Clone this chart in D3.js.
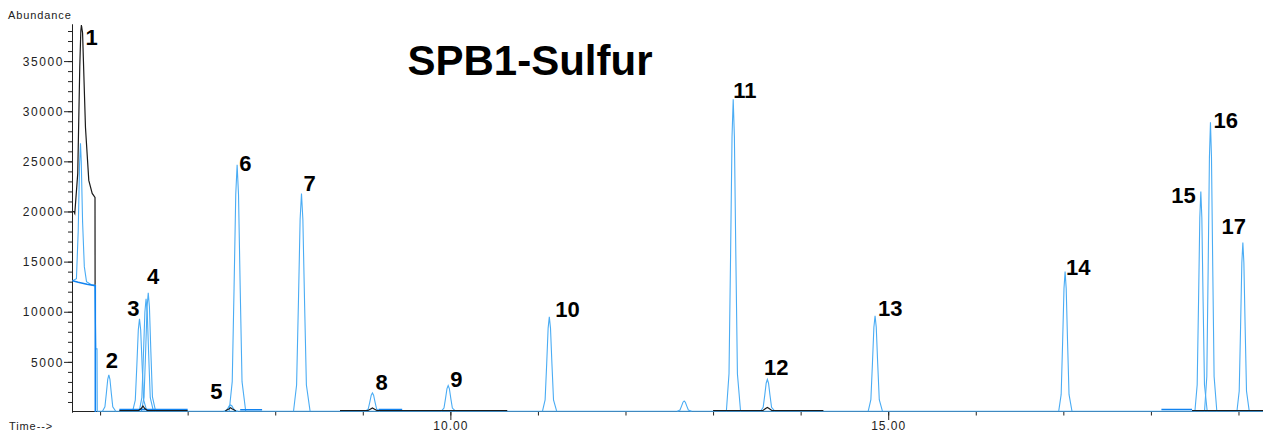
<!DOCTYPE html>
<html>
<head>
<meta charset="utf-8">
<script src="https://cdn.jsdelivr.net/npm/d3@7"></script>
<style>
  html, body { margin: 0; padding: 0; background: #fff; }
  svg { display: block; }
  .tick text, .axis-label { font-family: "Liberation Sans", Arial, sans-serif; }
</style>
</head>
<body>
<svg id="chart" width="1263" height="432"></svg>
<script>
// ---- Chromatogram data (time in minutes, abundance in counts) ----

// Main (light blue) sulfur trace: resolved peaks
const peakIds     = ["2", "3", "4", "4b", "5", "6", "7", "8", "9", "10", "x", "11", "12", "13", "14", "15", "16", "17"];
const peakTimes   = [6.10, 6.45, 6.55, 6.525, 7.49, 7.565, 8.30, 9.11, 9.975, 11.13, 12.67, 13.23, 13.62, 14.85, 17.02, 18.57, 18.68, 19.05];
const peakHeights = [3700, 9300, 11900, 11300, 700, 24650, 21800, 1900, 2650, 9500, 1100, 31200, 3250, 9600, 14000, 22000, 28900, 16900];
const peakWidths  = [0.028, 0.03, 0.03, 0.03, 0.03, 0.035, 0.035, 0.03, 0.03, 0.03, 0.03, 0.03, 0.03, 0.03, 0.028, 0.026, 0.026, 0.026];

// Peak profile: offsets in peak-width units and fraction of apex height
const profileOffsets   = [-2.6, -1.6, -1.0, -0.45, 0, 0.45, 1.0, 1.6, 2.8];
const profileFractions = [0, 0.12, 0.5, 0.88, 1, 0.88, 0.5, 0.12, 0];

const baselineLevel = 80;

// Main trace: solvent front (peak 1) and baseline to end of run
const lightLead = [
  [5.685, 13100], [5.73, 13300], [5.75, 18000], [5.765, 24500], [5.776, 26800],
  [5.785, 25000], [5.80, 19000], [5.82, 14500], [5.845, 13000], [5.90, 12700],
  [5.94, 12650], [5.952, 6300], [5.965, 6300], [5.968, 80], [19.28, 80]
];

// Second trace (dark blue): offset start and short windowed segments
const darkTrace = [
  [5.685, 13100], [5.75, 12950], [5.85, 12750], [5.945, 12600], [5.946, 0], null,
  [6.22, 250], [7.0, 250], null,
  [7.6, 220], [7.85, 220], null,
  [9.18, 250], [9.45, 250], null,
  [18.12, 250], [18.47, 250]
];

// Third trace (black): large peak 1 and windowed segments with small responses
const blackTrace = [
  [5.685, 20000], [5.700, 20000], [5.711, 19800], [5.745, 23800], [5.757, 29400],
  [5.768, 34400], [5.780, 38000], [5.787, 38600], [5.800, 37800], [5.833, 28400],
  [5.871, 23100], [5.910, 21800], [5.942, 21400], [5.943, 12700], null,
  [6.22, 150], [6.44, 150], [6.47, 350], [6.49, 600], [6.51, 350], [6.54, 150], [7.0, 150], null,
  [7.43, 120], [7.47, 300], [7.49, 420], [7.51, 300], [7.55, 120], null,
  [8.74, 150], [9.06, 150], [9.09, 300], [9.11, 400], [9.13, 300], [9.16, 150], [10.65, 150], null,
  [13.0, 150], [13.57, 150], [13.60, 350], [13.62, 450], [13.64, 350], [13.67, 150], [14.26, 150], null,
  [18.47, 150], [19.28, 150]
];

// Peak labels: text, retention time and abundance at the labelled apex
const labelTexts  = ["1", "2", "3", "4", "5", "6", "7", "8", "9", "10", "11", "12", "13", "14", "15", "16", "17"];
const labelTimes  = [5.787, 6.10, 6.45, 6.55, 7.49, 7.565, 8.30, 9.11, 9.975, 11.13, 13.23, 13.62, 14.85, 17.02, 18.57, 18.68, 19.05];
const labelValues = [38600, 3700, 9300, 11900, 700, 24650, 21800, 1900, 2650, 9500, 31200, 3250, 9600, 14000, 22000, 28900, 16900];

// Axis ticks
const yMajorTicks = [5000, 10000, 15000, 20000, 25000, 30000, 35000];
const yMinorTicks = d3.range(1000, 39000, 1000);
const xMinorTicks = [6, 7, 8, 9, 10, 11, 12, 13, 14, 15, 16, 17, 18, 19];
const xMajorTicks = [10, 15];

const titleText = "SPB1-Sulfur";

// ---- Layout ----
const svg = d3.select("#chart");
const W = 1263, H = 432;
svg.append("rect").attr("width", W).attr("height", H).attr("fill", "#fff");

const x = d3.scaleLinear().domain([5.685, 19.28]).range([72.5, 1263]);
const y = d3.scaleLinear().domain([0, 38700]).range([412, 24]);

const axisColor = "#222";
const lightBlue = "#4aacf4";
const darkBlue = "#1283f0";

// label placement relative to apex (px) and anchor
const labelLayout = [
  {dx: 4, dy: 20, a: "start"},   // 1
  {dx: 3, dy: -7, a: "middle"},  // 2
  {dx: 0, dy: -3, a: "end"},     // 3
  {dx: 5, dy: -9, a: "middle"},  // 4
  {dx: -8, dy: -6, a: "end"},    // 5
  {dx: 2, dy: 6, a: "start"},    // 6
  {dx: 2, dy: -2, a: "start"},   // 7
  {dx: 3, dy: -3, a: "start"},   // 8
  {dx: 2, dy: 2, a: "start"},    // 9
  {dx: 6, dy: 0, a: "start"},    // 10
  {dx: 0, dy: -1, a: "start"},   // 11
  {dx: 9, dy: -4, a: "middle"},  // 12
  {dx: 3, dy: 0, a: "start"},    // 13
  {dx: 1, dy: 3, a: "start"},    // 14
  {dx: -5, dy: 12, a: "end"},    // 15
  {dx: 3, dy: 6, a: "start"},    // 16
  {dx: -9, dy: -9, a: "middle"}  // 17
];

// ---- Axes ----
const yMinor = d3.axisLeft(y).tickValues(yMinorTicks).tickSize(4).tickSizeOuter(0).tickFormat("");
const yMajor = d3.axisLeft(y).tickValues(yMajorTicks).tickSize(8).tickSizeOuter(0).tickFormat(d3.format("d"));

const gyMinor = svg.append("g").attr("transform", "translate(72,0)").call(yMinor);
const gyMajor = svg.append("g").attr("transform", "translate(72,0)").call(yMajor);
[gyMinor, gyMajor].forEach(g => {
  g.selectAll("path").attr("stroke", axisColor);
  g.selectAll("line").attr("stroke", axisColor);
});
gyMajor.selectAll("text")
  .attr("font-size", 12).attr("fill", "#222").attr("x", -8)
  .attr("letter-spacing", "1.6px").attr("dy", "0.35em");

const xMinor = d3.axisBottom(x).tickValues(xMinorTicks).tickSize(4.5).tickSizeOuter(0).tickFormat("");
const xMajor = d3.axisBottom(x).tickValues(xMajorTicks).tickSize(9).tickSizeOuter(0).tickFormat(d3.format(".2f"));
const gxMinor = svg.append("g").attr("transform", "translate(0,411)").call(xMinor);
const gxMajor = svg.append("g").attr("transform", "translate(0,411)").call(xMajor);
[gxMinor, gxMajor].forEach(g => {
  g.selectAll("path").attr("stroke", axisColor);
  g.selectAll("line").attr("stroke", axisColor);
});
gxMajor.selectAll("text")
  .attr("font-size", 12).attr("fill", "#222").attr("y", 10).attr("dy", "0.71em")
  .attr("letter-spacing", "1px");

svg.append("text").attr("class", "axis-label")
  .attr("x", 8).attr("y", 18.5).attr("font-size", 11).attr("letter-spacing", "0.9px")
  .attr("fill", "#222").text("Abundance");
svg.append("text").attr("class", "axis-label")
  .attr("x", 9).attr("y", 430).attr("font-size", 11).attr("letter-spacing", "0.9px")
  .attr("fill", "#222").text("Time-->");

// ---- Traces ----
const line = d3.line()
  .defined(d => d !== null)
  .x(d => x(d[0]))
  .y(d => y(d[1]));

const traces = svg.append("g");

// main trace baseline and front
traces.append("path").datum(lightLead)
  .attr("d", line).attr("fill", "none").attr("stroke", lightBlue).attr("stroke-width", 1.1);

// main trace peaks
peakTimes.forEach((t, i) => {
  const h = peakHeights[i], w = peakWidths[i];
  const pts = profileOffsets.map((o, k) => [t + o * w, baselineLevel + profileFractions[k] * (h - baselineLevel)]);
  traces.append("path").datum(pts)
    .attr("d", line).attr("fill", "none").attr("stroke", lightBlue).attr("stroke-width", 1.1);
});

traces.append("path").datum(darkTrace)
  .attr("d", line).attr("fill", "none").attr("stroke", darkBlue).attr("stroke-width", 1.6);

traces.append("path").datum(blackTrace)
  .attr("d", line).attr("fill", "none").attr("stroke", "#1a1a1a").attr("stroke-width", 1.2);

// ---- Peak labels ----
const labels = svg.append("g")
  .attr("font-family", "'Liberation Sans', Arial, sans-serif")
  .attr("font-weight", "bold").attr("font-size", 22).attr("fill", "#000");
labelTexts.forEach((txt, i) => {
  const L = labelLayout[i];
  labels.append("text")
    .attr("x", x(labelTimes[i]) + L.dx)
    .attr("y", y(labelValues[i]) + L.dy)
    .attr("text-anchor", L.a)
    .text(txt);
});

// ---- Title ----
svg.append("text")
  .attr("x", 530).attr("y", 75)
  .attr("text-anchor", "middle")
  .attr("font-family", "'Liberation Sans', Arial, sans-serif")
  .attr("font-weight", "bold").attr("font-size", 42).attr("fill", "#000")
  .text(titleText);
</script>
</body>
</html>
